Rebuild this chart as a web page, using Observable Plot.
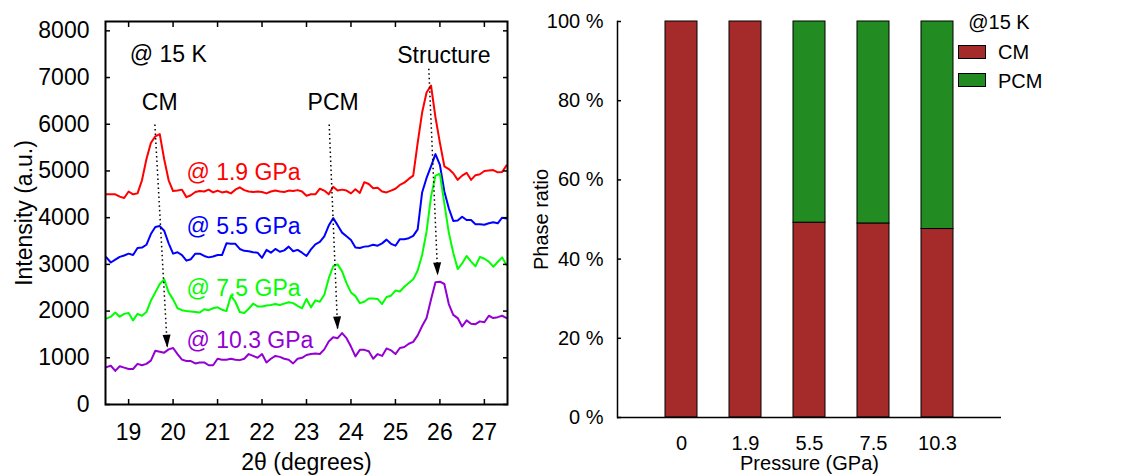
<!DOCTYPE html>
<html>
<head>
<meta charset="utf-8">
<script src="https://cdn.jsdelivr.net/npm/d3@7"></script>
<script src="https://cdn.jsdelivr.net/npm/@observablehq/plot@0.6"></script>
<style>
  html, body { margin: 0; padding: 0; background: #fff; }
  #wrap { position: relative; width: 1142px; height: 475px; overflow: hidden; font-family: "Liberation Sans", Arial, sans-serif; color: #000; }
  #left { position: absolute; left: 0; top: 0; }
  #right { position: absolute; left: 520px; top: 0; }
  .lg { position: absolute; font-size: 20px; line-height: 20px; white-space: nowrap; }
  .sw { position: absolute; box-sizing: border-box; border: 1px solid #000; }
</style>
</head>
<body>
<div id="wrap"><div id="left"></div><div id="right"></div><div id="legend"></div></div>
<script>
// ---------------- Left panel data: XRD intensity vs 2θ ----------------
const twoTheta = [18.5,18.6,18.7,18.8,18.9,19.0,19.1,19.2,19.3,19.4,
  19.5,19.6,19.7,19.8,19.9,20.0,20.1,20.2,20.3,20.4,
  20.5,20.6,20.7,20.8,20.9,21.0,21.1,21.2,21.3,21.4,
  21.5,21.6,21.7,21.8,21.9,22.0,22.1,22.2,22.3,22.4,
  22.5,22.6,22.7,22.8,22.9,23.0,23.1,23.2,23.3,23.4,
  23.5,23.6,23.7,23.8,23.9,24.0,24.1,24.2,24.3,24.4,
  24.5,24.6,24.7,24.8,24.9,25.0,25.1,25.2,25.3,25.4,
  25.5,25.6,25.7,25.8,25.9,26.0,26.1,26.2,26.3,26.4,
  26.5,26.6,26.7,26.8,26.9,27.0,27.1,27.2,27.3,27.4,27.5];

const intensity19 = [4500,4500,4500,4450,4420,4560,4500,4520,4800,5250,
  5600,5740,5790,5250,4800,4570,4580,4600,4440,4480,
  4550,4570,4560,4600,4540,4580,4540,4560,4520,4600,
  4650,4590,4560,4550,4560,4550,4520,4560,4580,4560,
  4550,4580,4570,4590,4560,4470,4500,4500,4620,4580,
  4500,4660,4580,4600,4580,4520,4610,4530,4760,4720,
  4630,4640,4560,4540,4580,4620,4700,4750,4830,4900,
  5600,6250,6680,6830,6150,5600,5100,5040,4950,4810,
  4900,4960,4810,4910,4930,5000,5010,5020,4970,4980,5120];

const intensity55 = [3150,3040,3100,3160,3190,3230,3200,3350,3360,3420,
  3650,3800,3820,3720,3450,3230,3260,3200,3080,3110,
  3230,3230,3180,3150,3170,3200,3200,3450,3440,3440,
  3330,3290,3280,3260,3250,3140,3310,3250,3330,3270,
  3300,3380,3280,3310,3250,3180,3320,3430,3480,3600,
  3830,3990,3840,3680,3600,3520,3360,3350,3380,3390,
  3420,3400,3450,3530,3440,3400,3540,3540,3560,3610,
  3750,4540,4850,5100,5360,5130,4560,4200,3930,3940,
  4020,3950,3950,3860,3860,3850,3880,3900,3880,4000,3980];

const intensity75 = [1840,1880,1970,1880,1940,1960,1800,1940,1900,1980,
  2220,2400,2580,2680,2400,2250,2060,2020,2000,1990,
  1980,1970,2040,2020,2060,2080,2030,2000,2330,2200,
  1980,1960,2050,2160,2100,2100,2120,2130,2150,2130,
  2160,2190,2170,2110,2060,2260,2080,2230,2200,2350,
  2700,2960,3000,2850,2600,2400,2320,2170,2200,2270,
  2270,2260,2150,2300,2330,2440,2420,2520,2600,2680,
  2870,3200,3700,4450,4900,4940,4300,3680,3250,2900,
  3020,3180,3060,2960,3160,3120,3060,2950,3050,3150,2980];

const intensity103 = [800,830,720,820,790,760,760,870,840,870,
  940,1150,1130,1110,1180,1210,1080,960,930,930,
  880,900,900,840,840,980,960,960,980,960,
  950,980,1080,1040,1000,1080,900,980,1040,1020,
  980,960,880,980,1000,1060,1080,1090,1080,1180,
  1350,1440,1420,1530,1420,1240,1030,1170,1170,1140,
  980,1080,1040,1200,1160,1080,1210,1230,1300,1340,
  1480,1680,1850,2250,2620,2630,2580,2150,1920,1850,
  1670,1800,1730,1720,1780,1760,1900,1850,1870,1900,1850];

const seriesNames = ["@ 1.9 GPa", "@ 5.5 GPa", "@ 7.5 GPa", "@ 10.3 GPa"];
const seriesColors = ["#ff0000", "#0000ff", "#00ff00", "#9400d3"];
const seriesLabelTheta = [20.3, 20.3, 20.3, 20.3];
const seriesLabelIntensity = [4960, 3800, 2480, 1365];

const noteTexts = ["@ 15 K", "CM", "PCM", "Structure"];
const noteTheta = [19.89, 19.70, 23.60, 26.09];
const noteIntensity = [7487, 6472, 6472, 7472];

// dotted arrows: start and tip
const arrowTheta1 = [19.59, 23.51, 25.75];
const arrowIntensity1 = [5994, 5994, 7187];
const arrowTheta2 = [19.87, 23.70, 25.95];
const arrowIntensity2 = [1214, 1606, 2762];

const thetaTicks = [19, 20, 21, 22, 23, 24, 25, 26, 27];
const intensityTicks = [0, 1000, 2000, 3000, 4000, 5000, 6000, 7000, 8000];
const thetaDomain = [18.48, 27.52];
const intensityDomain = [0, 8200];

// ---------------- Right panel data: phase ratio ----------------
const pressures = ["0", "1.9", "5.5", "7.5", "10.3"];
const cmRatio = [100, 100, 49.2, 49.0, 47.6];
const pcmRatio = [0, 0, 50.8, 51.0, 52.4];
const phases = ["CM", "PCM"];
const phaseColors = ["#a52a2a", "#228b22"];
const ratioTicks = [0, 20, 40, 60, 80, 100];
const legendTitle = "@15 K";

// ---------------- Left panel ----------------
const L = {width: 520, height: 475, mL: 105, mR: 13, mT: 21, mB: 71};
const seriesValues = [intensity19, intensity55, intensity75, intensity103];
const lineRows = [];
seriesNames.forEach((s, k) => twoTheta.forEach((t, i) => lineRows.push({theta: t, intensity: seriesValues[k][i], series: s})));
const labelRows = seriesNames.map((s, k) => ({theta: seriesLabelTheta[k], intensity: seriesLabelIntensity[k], series: s}));
const noteRows = noteTexts.map((t, k) => ({text: t, theta: noteTheta[k], intensity: noteIntensity[k]}));

const xs = Plot.scale({x: {domain: thetaDomain, range: [L.mL, L.width - L.mR]}});
const ys = Plot.scale({y: {domain: intensityDomain, range: [L.height - L.mB, L.mT]}});
const arrowRows = arrowTheta1.map((t, k) => {
  const dx = xs.apply(arrowTheta2[k]) - xs.apply(t);
  const dy = ys.apply(arrowIntensity2[k]) - ys.apply(arrowIntensity1[k]);
  return {x1: t, y1: arrowIntensity1[k], x2: arrowTheta2[k], y2: arrowIntensity2[k], angle: -Math.atan2(dx, dy) * 180 / Math.PI};
});
const arrowHead = {draw(ctx) { ctx.moveTo(0, 0); ctx.lineTo(-4, -13); ctx.lineTo(4, -13); ctx.closePath(); }};

const blank = () => "";
const plain = d => String(d);
const leftPlot = Plot.plot({
  width: L.width, height: L.height,
  marginLeft: L.mL, marginRight: L.mR, marginTop: L.mT, marginBottom: L.mB,
  x: {domain: thetaDomain},
  y: {domain: intensityDomain},
  color: {domain: seriesNames, range: seriesColors},
  style: {fontFamily: "'Liberation Sans', Arial, sans-serif", fontSize: "23px", color: "#000", background: "#fff", overflow: "visible"},
  marks: [
    Plot.line(lineRows, {x: "theta", y: "intensity", z: "series", stroke: "series", strokeWidth: 2, clip: true}),
    Plot.text(labelRows, {x: "theta", y: "intensity", text: "series", fill: "series", textAnchor: "start", fontSize: 23}),
    Plot.text(noteRows, {x: "theta", y: "intensity", text: "text", fill: "#000", fontSize: 23}),
    Plot.link(arrowRows, {x1: "x1", y1: "y1", x2: "x2", y2: "y2", stroke: "#000", strokeWidth: 1.5, strokeDasharray: "1.5,3"}),
    Plot.dot(arrowRows, {x: "x2", y: "y2", symbol: arrowHead, rotate: "angle", fill: "#000", stroke: "none", r: 5}),
    Plot.frame({stroke: "#000", strokeWidth: 2}),
    Plot.axisX(thetaTicks, {anchor: "bottom", tickSize: 0, tickPadding: 19, tickFormat: plain, label: "2θ (degrees)", labelArrow: "none", labelAnchor: "center", labelOffset: 65}),
    Plot.axisX(thetaTicks, {anchor: "bottom", tickSize: -5, tickFormat: blank, label: null, strokeWidth: 1.5}),
    Plot.axisX(thetaTicks, {anchor: "top", tickSize: -5, tickFormat: blank, label: null, strokeWidth: 1.5}),
    Plot.axisY(intensityTicks, {anchor: "left", tickSize: 0, tickPadding: 16, tickFormat: plain, label: "Intensity (a.u.)", labelArrow: "none", labelAnchor: "center", labelOffset: 90}),
    Plot.axisY(intensityTicks, {anchor: "left", tickSize: -5, tickFormat: blank, label: null, strokeWidth: 1.5}),
    Plot.axisY(intensityTicks, {anchor: "right", tickSize: -5, tickFormat: blank, label: null, strokeWidth: 1.5})
  ]
});
document.getElementById("left").appendChild(leftPlot);

// ---------------- Right panel ----------------
const R = {width: 622, height: 475, mL: 97, mR: 141, mT: 21, mB: 58};
const ratioRows = [];
phases.forEach((p, k) => pressures.forEach((pr, i) => {
  const v = (k === 0 ? cmRatio : pcmRatio)[i];
  if (v > 0) ratioRows.push({pressure: pr, ratio: v, phase: p});
}));
const rightPlot = Plot.plot({
  width: R.width, height: R.height,
  marginLeft: R.mL, marginRight: R.mR, marginTop: R.mT, marginBottom: R.mB,
  x: {domain: pressures, paddingInner: 0.5, paddingOuter: 0.75},
  y: {domain: [0, 100]},
  color: {domain: phases, range: phaseColors},
  style: {fontFamily: "'Liberation Sans', Arial, sans-serif", fontSize: "20px", color: "#000", background: "#fff", overflow: "visible"},
  marks: [
    Plot.barY(ratioRows, {x: "pressure", y: "ratio", fill: "phase", stroke: "#000", strokeWidth: 1}),
    Plot.ruleY([0], {stroke: "#000", strokeWidth: 1.5}),
    Plot.frame({anchor: "left", stroke: "#000", strokeWidth: 1.5}),
    Plot.axisY(ratioTicks, {anchor: "left", tickSize: 0, tickPadding: 14, tickFormat: d => d + " %", label: "Phase ratio", labelArrow: "none", labelAnchor: "center", labelOffset: 84}),
    Plot.axisY(ratioTicks, {anchor: "left", tickSize: -4, tickFormat: blank, label: null, strokeWidth: 1.5}),
    Plot.axisX({anchor: "bottom", tickSize: 0, tickPadding: 18, label: "Pressure (GPa)", labelArrow: "none", labelAnchor: "center", labelOffset: 52})
  ]
});
document.getElementById("right").appendChild(rightPlot);

// ---------------- Legend ----------------
const legend = document.getElementById("legend");
const title = document.createElement("div");
title.className = "lg"; title.textContent = legendTitle;
title.style.left = "949px"; title.style.width = "100px"; title.style.textAlign = "center"; title.style.top = "11.5px";
legend.appendChild(title);
const swTops = [45, 73], swH = [13.5, 14], txtTops = [41.5, 71];
phases.forEach((p, k) => {
  const sw = document.createElement("div");
  sw.className = "sw";
  Object.assign(sw.style, {left: "958px", top: swTops[k] + "px", width: "28px", height: swH[k] + "px", background: phaseColors[k]});
  legend.appendChild(sw);
  const t = document.createElement("div");
  t.className = "lg"; t.textContent = p;
  Object.assign(t.style, {left: "998px", top: txtTops[k] + "px"});
  legend.appendChild(t);
});
</script>
</body>
</html>
